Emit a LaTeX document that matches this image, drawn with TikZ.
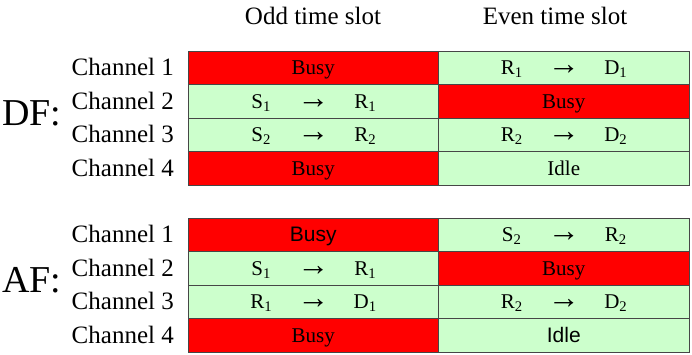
\documentclass[tikz,border=0pt]{standalone}
\usepackage{fontspec}
\setmainfont{Liberation Serif}
\setsansfont{Liberation Sans}
\usetikzlibrary{positioning,calc}
\definecolor{busyred}{RGB}{255,0,0}
\definecolor{freegreen}{RGB}{204,255,204}
\definecolor{gridgray}{RGB}{70,70,70}

% one hop: sender -> receiver, spread over the cell
\newcommand{\hop}[2]{\makebox[40pt]{#1}\makebox[64pt]{\sffamily\bfseries\fontsize{32}{32}\selectfont\smash{→}}\makebox[40pt]{#2}}

\begin{document}
\begin{tikzpicture}[x=1pt, y=-1pt,
    cell/.style={rectangle, draw=gridgray, line width=0.8pt,
      minimum width=250.5pt, minimum height=33.5pt, inner sep=0pt,
      outer sep=0pt, text height=14pt, text depth=0pt,
      font=\fontsize{21}{23}\selectfont},
    busy/.style={cell, fill=busyred},
    free/.style={cell, fill=freegreen},
    chan/.style={anchor=base east, inner sep=0pt, font=\fontsize{25}{28}\selectfont},
    scheme/.style={anchor=base west, inner sep=0pt, font=\fontsize{38}{40}\selectfont},
    slot/.style={anchor=base, inner sep=0pt, font=\fontsize{25}{28}\selectfont}
  ]
    \useasboundingbox (0,0) rectangle (692,354);

    % headers
    \node[slot] (odd)  at (313,24) {Odd time slot};
    \node[slot] (even) at (555,24) {Even time slot};

    % DF
    \node[busy, anchor=north west] (df11) at (188,51) {Busy};
    \node[free, right=0pt of df11] (df12) {\hop{R\textsubscript{1}}{D\textsubscript{1}}};
    \node[free, below=0pt of df11] (df21) {\hop{S\textsubscript{1}}{R\textsubscript{1}}};
    \node[busy, right=0pt of df21] (df22) {Busy};
    \node[free, below=0pt of df21] (df31) {\hop{S\textsubscript{2}}{R\textsubscript{2}}};
    \node[free, right=0pt of df31] (df32) {\hop{R\textsubscript{2}}{D\textsubscript{2}}};
    \node[busy, below=0pt of df31] (df41) {Busy};
    \node[free, right=0pt of df41] (df42) {Idle};

    % AF
    \node[busy, anchor=north west, font=\sffamily\fontsize{21}{23}\selectfont] (af11) at (188,218) {Busy};
    \node[free, right=0pt of af11] (af12) {\hop{S\textsubscript{2}}{R\textsubscript{2}}};
    \node[free, below=0pt of af11] (af21) {\hop{S\textsubscript{1}}{R\textsubscript{1}}};
    \node[busy, right=0pt of af21] (af22) {Busy};
    \node[free, below=0pt of af21] (af31) {\hop{R\textsubscript{1}}{D\textsubscript{1}}};
    \node[free, right=0pt of af31] (af32) {\hop{R\textsubscript{2}}{D\textsubscript{2}}};
    \node[busy, below=0pt of af31] (af41) {Busy};
    \node[free, right=0pt of af41, font=\sffamily\fontsize{21}{23}\selectfont] (af42) {Idle};

    % channel labels
    \foreach \r in {1,...,4} {
      \node[chan] (dfch\r) at ($(df\r1.west)+(-14,8)$) {Channel \r};
      \node[chan] (afch\r) at ($(af\r1.west)+(-14,8)$) {Channel \r};
    }

    \node[scheme] (df) at (2,125) {DF:};
    \node[scheme] (af) at (2,292) {AF:};
  \end{tikzpicture}
\end{document}
